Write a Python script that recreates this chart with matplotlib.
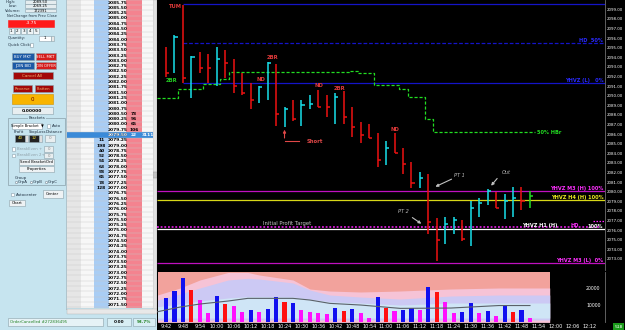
import numpy as np
import pandas as pd
import matplotlib
matplotlib.use("Agg")
import matplotlib.pyplot as plt
from matplotlib.patches import Rectangle

W, H = 625, 330

# ---- 3-minute HLC bars, 9:42 .. 11:51 ----
bar_high = [2095.1, 2096.3, 2099.5, 2094.1, 2094.6, 2094.35, 2095.1, 2094.76, 2093.8, 2092.33,
            2091.3, 2091.0, 2093.54, 2093.3, 2088.8, 2089.55, 2089.55, 2090.07, 2090.6, 2090.07,
            2090.25, 2090.5, 2088.8, 2087.3, 2087.05, 2086.1, 2085.3, 2086.1, 2084.6, 2083.1,
            2082.1, 2081.84, 2077.26, 2077.33, 2077.33, 2077.05, 2079.03, 2079.3, 2080.25, 2080.0,
            2079.76, 2080.5, 2080.5, 2080.07]
bar_low = [2091.9, 2092.33, 2091.35, 2089.8, 2092.33, 2091.35, 2091.04, 2091.8, 2090.3, 2090.07,
           2088.6, 2089.27, 2089.6, 2086.85, 2086.77, 2087.4, 2086.85, 2088.58, 2088.8, 2087.8,
           2087.1, 2087.1, 2085.67, 2085.1, 2085.56, 2082.6, 2082.8, 2084.0, 2081.84, 2080.35,
           2080.35, 2075.6, 2072.8, 2074.55, 2075.6, 2074.9, 2074.35, 2077.33, 2078.6, 2078.27,
           2077.13, 2077.33, 2078.1, 2078.33]
bar_close = [2092.33, 2096.08, 2091.8, 2094.06, 2092.85, 2092.85, 2093.8, 2093.4, 2091.0, 2090.3,
             2089.6, 2090.9, 2093.4, 2088.1, 2088.58, 2087.57, 2089.03, 2089.1, 2088.85, 2088.85,
             2089.83, 2087.8, 2086.77, 2085.9, 2085.63, 2083.3, 2084.58, 2084.06, 2082.85, 2080.9,
             2081.4, 2076.8, 2075.0, 2076.6, 2077.05, 2075.1, 2078.27, 2078.85, 2080.07, 2078.27,
             2079.03, 2079.3, 2079.03, 2079.55]
bar_dir = ("d u d u d d u d d d "
           "d u u d u d u u d d "
           "u d d d d d u d d d "
           "u d d u u d u u u d "
           "u u d l").split()

volume = [14800, 19000, 26800, 19400, 13200, 5800, 16000, 11000, 10000, 6200,
          7400, 6200, 7800, 15400, 12000, 11800, 7600, 6400, 5400, 4800,
          8400, 6800, 8000, 5800, 2800, 15200, 8400, 6800, 7400, 8800,
          7400, 21400, 18400, 12400, 5800, 6400, 11400, 5800, 7000, 4000,
          10400, 6400, 7400, 2800]
vol_dir = ("b b b r m m b r m m "
           "b m b b r b m m m m "
           "b r b m m b r m b b "
           "m b r m m b b m b m "
           "b r b m").split()

# volume envelope bands (minutes of day)
band_min = [579, 587, 594, 604, 611, 615, 627, 633, 640, 651, 665, 683, 700, 718]
band_pink = [16400, 20600, 25400, 29900, 29900, 28400, 25400, 20000, 18800, 18200, 18800, 20000, 20600, 20600]
band_lav = [13400, 17000, 20600, 25400, 26400, 26000, 23600, 19400, 16400, 15200, 14000, 15800, 16400, 16400]
band_blue = [9400, 11000, 12800, 14600, 15400, 15400, 15200, 14000, 12400, 11600, 10400, 11600, 11600, 11600]
ma_min = [579, 587, 594, 604, 611, 615, 627, 633, 640, 651, 665, 683, 700, 711]
ma_vol = [6400, 9200, 11000, 12800, 14400, 14400, 14400, 13400, 11400, 10400, 8400, 8600, 10100, 10100]

# DOM ladder
ask_px = [2080.50, 2080.25, 2080.00, 2079.75, 2079.50]
ask_sz = [73, 96, 65, 106, 22]
bid_px = [2079.25, 2079.00, 2078.75, 2078.50, 2078.25, 2078.00, 2077.75, 2077.50, 2077.25, 2077.00]
bid_sz = [11, 198, 40, 52, 54, 63, 58, 65, 78, 128]
last_px = 2079.50

time_labels = ["9:42", "9:48", "9:54", "10:00", "10:06", "10:12", "10:18", "10:24", "10:30",
               "10:36", "10:42", "10:48", "10:54", "11:00", "11:06", "11:12", "11:18", "11:24",
               "11:30", "11:36", "11:42", "11:48", "11:54", "12:00", "12:06", "12:12"]


def tmin(s):
    h, m = s.split(":")
    return int(h) * 60 + int(m)


bar_t = tmin("9:42") + 3 * np.arange(len(bar_close))

fig = plt.figure(figsize=(W / 100, H / 100), dpi=100)
fig.patch.set_facecolor("black")


def fax(x0, y0, x1, y1):
    return fig.add_axes([x0 / W, 1 - y1 / H, (x1 - x0) / W, (y1 - y0) / H])


# ================= left order panel =================
PANEL = "#c6e4ef"
ui = fax(0, 0, 157, 330)
ui.set_xlim(0, 157)
ui.set_ylim(330, 0)
ui.set_facecolor(PANEL)
ui.axis("off")
ui.add_patch(Rectangle((0, 0), 157, 330, fc=PANEL, ec="none"))


def box(x0, y0, x1, y1, fc, text=None, tc="black", fs=3.0, ec="#8aa0aa", bold=False, ha="center"):
    ui.add_patch(Rectangle((x0, y0), x1 - x0, y1 - y0, fc=fc, ec=ec, lw=0.4))
    if text is not None:
        tx = (x0 + x1) / 2 if ha == "center" else x0 + 1.5
        ui.text(tx, (y0 + y1) / 2 + 0.3, text, color=tc, fontsize=fs, ha=ha, va="center",
                fontweight="bold" if bold else "normal")


def label(x, y, s, fs=2.8, c="#203040", ha="left"):
    ui.text(x, y, s, fontsize=fs, color=c, ha=ha, va="center")


label(6, 1.8, "High:")
box(25, 0, 56, 3.5, "#e4ecef", "2089.50", fs=2.6)
label(9, 6, "Low:")
box(25, 4.2, 56, 8, "#e4ecef", "2069.25", fs=2.6)
label(5, 10.5, "Volume:")
box(25, 8.7, 56, 12.5, "#e4ecef", "172391", fs=2.6)
label(7, 15.5, "NetChange from Prev Close", fs=2.6)
box(8, 19.5, 54, 26.5, "#ff1a1a", "-3.75", tc="white", fs=3.2, ec="#ff1a1a")
for i, s in enumerate(["1", "2", "3", "4", "5"]):
    box(8.5 + i * 6.2, 28, 14 + i * 6.2, 34, "#eef4f6", s, fs=3)
label(8, 38, "Quantity:")
box(39, 35.5, 51, 40.5, "white", "1", fs=3)
box(51, 35.5, 54, 40.5, "#e8e8e8")
label(8, 45, "Quick Click:")
box(30, 43, 33, 46.5, "white")
box(12, 53, 34, 59.5, "#1c5aa6", "BUY MKT", tc="white", fs=2.8)
box(35.5, 53, 55.5, 59.5, "#d41c1c", "SELL MKT", tc="white", fs=2.8)
box(12, 62, 34, 68.5, "#1c5aa6", "JOIN BID", tc="white", fs=2.8)
box(35.5, 62, 55.5, 68.5, "#d41c1c", "JOIN OFFER", tc="white", fs=2.6)
box(12.5, 71.5, 52.5, 79, "#a20808", "Cancel All", tc="#f0b070", fs=3)
box(12.5, 85, 31.5, 91.5, "#a20808", "Reverse", tc="#f0b070", fs=2.8)
box(34.5, 85, 52.5, 91.5, "#a20808", "Flatten", tc="#f0b070", fs=2.8)
box(12, 94, 52.5, 104, "#f8b400", "0", tc="#600000", fs=4, ec="#d09000")
box(12, 107, 52.5, 114, "#e8eef0", "0.00000", fs=3.2, bold=True)
# brackets group
ui.add_patch(Rectangle((8, 118), 57, 67, fc="none", ec="#8aa0aa", lw=0.5))
ui.text(37, 118, "Brackets", fontsize=2.8, ha="center", va="center", color="#203040",
        bbox=dict(fc=PANEL, ec="none", pad=0.3))
box(12, 123, 42, 129, "white", "Simple Bracket  \u25bc", fs=2.6)
box(47, 124, 50, 127.5, "white")
label(51.5, 126, "Auto")
label(14, 132, "Profit")
label(29, 132, "StopLoss")
label(46, 132, "Distance")
box(15, 134.5, 25, 141.5, "#222222", "40", tc="#f0e040", fs=3)
box(25, 134.5, 28, 141.5, "#e0e0e0")
box(29, 134.5, 39, 141.5, "#222222", "12", tc="#f0e040", fs=3)
box(39, 134.5, 42, 141.5, "#e0e0e0")
box(45, 134.5, 55, 141.5, "#e8eef0", "0", fs=3, tc="#888888")
box(12, 147, 15, 150.5, "white")
label(17, 149, "BreakEven +", c="#90a0a8")
box(44, 146, 53, 151.5, "#e8eef0", "0", fs=2.8, tc="#888888")
box(12, 153.5, 15, 157, "white")
label(17, 155.5, "BreakEven 2+", c="#90a0a8")
box(44, 152.5, 53, 158, "#e8eef0", "0", fs=2.8, tc="#888888")
box(19, 158.5, 53.5, 164.5, "#eef2f4", "Send BracketOrd", fs=2.8)
box(19, 166, 53.5, 172, "#eef2f4", "Properties", fs=2.8)
label(15, 177.5, "Group")
for i, s in enumerate(["GrpA", "GrpB", "GrpC"]):
    ui.plot(16 + i * 15, 182, "o", ms=1.6, mfc="white", mec="#506070", mew=0.3)
    label(18 + i * 15, 182, s)
box(11, 192.5, 14, 196, "white")
label(16, 194.5, "Autocenter")
box(43, 190, 62.5, 198, "#eef2f4", "Center", fs=2.8)
box(9, 200, 24.5, 206, "#eef2f4", "Chart", fs=2.8)
# status bar
box(8, 318, 103, 326, "#e6f2f6", "OrderCancelled #272836495", tc="#208020", fs=2.8, ha="left")
box(107, 318, 131, 326, "#d8eef4", "0.00", fs=3, bold=True)
box(133, 318, 155, 326, "#d8eef4", "93.7%", tc="#208020", fs=3, bold=True)
# scrollbars
ui.add_patch(Rectangle((65.5, 0), 1.5, 310, fc="#b0c4cc", ec="none"))
ui.add_patch(Rectangle((153, 0), 4, 310, fc="#e2e2e2", ec="#b0b0b0", lw=0.3))
ui.add_patch(Rectangle((153.3, 172), 3.4, 6, fc="#c4c4c4", ec="#909090", lw=0.3))
ui.add_patch(Rectangle((67, 308.5), 90, 5, fc="#e8e8e8", ec="#b0b0b0", lw=0.3))

# ================= DOM ladder =================
dom = fax(67, 0, 153, 308)
row = 0.25
dom.set_xlim(0, 86)
dom_lo, dom_hi = last_px - (308 - 135) / 5.3 * row, last_px + 135 / 5.3 * row
dom.set_ylim(dom_lo, dom_hi)
dom.axis("off")
cols = [(0, 14, "#e6e6e6"), (14, 27, "#f7f7f7"), (27, 42, "#a9cdf4"),
        (42, 59, "#f7f7f7"), (59, 75, "#f4838f"), (75, 86, "#f7f7f7")]
for c0, c1, cc in cols:
    dom.axvspan(c0, c1, color=cc, lw=0)
ladder = np.arange(2071.25, 2086.01, row)
for p in ladder:
    dom.axhline(p - row / 2, color="#c8c8c8", lw=0.3)
    if dom_lo + 0.1 < p < dom_hi - 0.1:
        dom.text(50.5, p, f"{p:.2f}", fontsize=3.2, ha="center", va="center", fontweight="bold")
dom.axhspan(last_px - row / 2, last_px + row / 2, color="#3a8ad8", lw=0)
dom.text(50.5, last_px, f"{last_px:.2f}", fontsize=3.2, ha="center", va="center",
         fontweight="bold", color="white")
dom.text(80.5, last_px, "3111", fontsize=3.2, ha="center", va="center", fontweight="bold",
         color="white")
for p, s in zip(ask_px, ask_sz):
    dom.text(67, p, str(s), fontsize=3.2, ha="center", va="center", fontweight="bold",
             color="white" if p == last_px else "black")
for p, s in zip(bid_px, bid_sz):
    dom.text(34.5, p, str(s), fontsize=3.2, ha="center", va="center", fontweight="bold")

# ================= price chart =================
x_lo, x_hi = 578.8, 737.6
ax = fax(157, 0, 605, 270)
ax.set_facecolor("black")
ax.set_xlim(x_lo, x_hi)
ax.set_ylim(2099 - 260.7 / 9.6, 2099 + 9.3 / 9.6)
for s in ["top", "left", "bottom"]:
    ax.spines[s].set_visible(False)
ax.spines["right"].set_color("#707070")
ax.spines["right"].set_linewidth(0.6)
ax.set_xticks([])
ax.yaxis.tick_right()
ax.set_yticks(np.arange(2073, 2100))
ax.set_yticklabels([f"{v:.2f}" for v in np.arange(2073, 2100)])
ax.tick_params(axis="y", length=0, pad=1.0, labelsize=2.9, labelcolor="white")

# levels
ax.hlines(2099.55, bar_t[2], x_hi, color="#1414c8", lw=0.9)
ax.hlines(2095.45, bar_t[2], x_hi, color="#1414c8", lw=0.9, linestyles=(0, (3, 1.5)))
ax.hlines(2091.3, bar_t[2], x_hi, color="#1414c8", lw=0.9)
ax.hlines(2080.07, x_lo, x_hi, color="#c010c0", lw=0.9)
ax.hlines(2079.13, x_lo, x_hi, color="#d8d818", lw=0.9)
ax.hlines(2076.32, x_lo, 735.4, color="#ff20ff", lw=1.1, linestyles=(0, (1.2, 1.2)))
ax.hlines(2076.95, 733.5, 737.2, color="#ff20ff", lw=0.9, linestyles=(0, (1.2, 1.2)))
ax.hlines(2076.08, x_lo, x_hi, color="white", lw=0.9)
ax.hlines(2072.54, x_lo, x_hi, color="#c010c0", lw=0.9)

tr = ax.get_yaxis_transform()
lbl = dict(fontsize=3.6, fontweight="bold", ha="right", va="bottom", transform=tr)
ax.text(0.996, 2095.5, "HD  50%", color="#2a2aff", **lbl)
ax.text(0.996, 2091.35, "YHVZ (L)   0%", color="#2a2aff", **lbl)
ax.text(0.996, 2080.12, "YHVZ M3 (H) 100%", color="#ff30ff", **lbl)
ax.text(0.996, 2079.18, "YHVZ H4 (H) 100%", color="#f0f020", **lbl)
ax.text(0.893, 2076.2, "YHVZ H1 (H)", color="white", **lbl)
ax.text(0.932, 2076.2, "HD", color="#ff30ff", transform=tr,
        fontsize=3.6, fontweight="bold", ha="center", va="bottom")
ax.text(0.996, 2076.15, "100%", color="white", **lbl)
ax.text(0.996, 2072.6, "YHVZ M3 (L)  0%", color="#ff30ff", **lbl)
ax.text(0.29, 2076.45, "Initial Profit Target", color="#c8c8c8", fontsize=3.8,
        ha="center", va="bottom", transform=tr)

# green step line
step_t = [578.8, 586.3, 595.2, 601.2, 604.3, 646.8, 650.0, 655.7, 664.6, 667.8, 673.8, 676.7, 712.7]
step_p = [2089.73, 2090.67, 2091.19, 2091.7, 2092.47, 2092.57, 2092.33, 2091.08, 2090.67,
          2089.9, 2087.57, 2086.19, 2086.19]
ax.step(step_t, step_p, where="post", color="#22dd22", lw=0.9, ls=(0, (2.5, 1.5)))
ax.text(713.5, 2086.19, "50% HBr", color="#22dd22", fontsize=3.6, fontweight="bold",
        ha="left", va="center")

# bars
col = {"d": "#ee1111", "u": "#18e0ea", "l": "#22dd22"}
tick = 1.1
for t, hi, lo, cl, d in zip(bar_t, bar_high, bar_low, bar_close, bar_dir):
    ax.vlines(t, lo, hi, color=col[d], lw=1.1)
    ax.hlines(cl, t, t + tick, color=col[d], lw=1.1)

# signal labels
sig = dict(fontsize=3.8, fontweight="bold", ha="center", va="center")
ax.text(bar_t[1], 2099.3, "TUM", color="#e03a3a", **sig)
ax.text(bar_t[0] + 2, 2091.56, "2BR", color="#22cc22", **sig)
ax.text(bar_t[11] + 0.5, 2091.64, "ND", color="#e03a3a", **sig)
ax.text(bar_t[12] + 1.8, 2094.03, "2BR", color="#e03a3a", **sig)
ax.text(bar_t[18] + 0.3, 2091.1, "ND", color="#e03a3a", **sig)
ax.text(bar_t[20] + 1.4, 2090.8, "2BR", color="#e03a3a", **sig)
ax.text(bar_t[27], 2086.5, "ND", color="#e03a3a", **sig)

# short entry arrow
ax.annotate("", xy=(bar_t[14], 2086.75), xytext=(bar_t[14], 2085.3),
            arrowprops=dict(arrowstyle="-|>", color="#e04848", lw=0.8, mutation_scale=4))
ax.plot([bar_t[14], bar_t[14] + 5.3], [2085.3, 2085.3], color="#e04848", lw=0.8)
ax.text(bar_t[14] + 8, 2085.2, "Short", color="#e04848", fontsize=3.8, fontweight="bold",
        ha="left", va="center")

# gray arrows
notes = [("PT 1", 686.0, 2081.64, 684.1, 2081.43, 676.6, 2080.4),
         ("Out", 702.5, 2082.05, 700.0, 2081.6, 696.6, 2080.4),
         ("PT 2", 666.3, 2077.9, 668.5, 2077.47, 673.3, 2076.5)]
for s, tx, ty, x0, y0, x1, y1 in notes:
    ax.text(tx, ty, s, color="#b8b8b8", fontsize=3.6, style="italic", ha="center", va="center")
    ax.annotate("", xy=(x1, y1), xytext=(x0, y0),
                arrowprops=dict(arrowstyle="-|>", color="#c0c0c0", lw=0.8, mutation_scale=4))

# ================= volume panel =================
vx = fax(157, 272.3, 605, 322.4)
vx.set_facecolor("black")
vx.set_xlim(x_lo, x_hi)
vx.set_ylim(0, 30000)
for s in ["top", "left", "bottom"]:
    vx.spines[s].set_visible(False)
vx.spines["right"].set_color("#707070")
vx.spines["right"].set_linewidth(0.6)
vx.fill_between(band_min, 0, 30000, color="#f2a29c", lw=0)
vx.fill_between(band_min, 0, band_pink, color="#f6c3d6", lw=0)
vx.fill_between(band_min, 1400, band_lav, color="#ccc9f4", lw=0)
vx.fill_between(band_min, 2600, band_blue, color="#cfe5f6", lw=0)
vx.plot(ma_min, ma_vol, color="#5a6068", lw=0.8)
vcol = {"b": "#1010f0", "r": "#ff1010", "m": "#ff10ff"}
vx.bar(bar_t, volume, width=1.45, color=[vcol[c] for c in vol_dir], lw=0)
vx.set_yticks([])
vx.set_xticks([tmin(s) for s in time_labels])
vx.set_xticklabels(time_labels)
vx.tick_params(axis="x", length=0, pad=1.2, labelsize=3.6, labelcolor="white")
for v in [20000, 10000]:
    vx.text(0.99, v, str(v), color="white", fontsize=3.3, ha="right", va="center",
            transform=vx.get_yaxis_transform())

fig.text(618.5 / W, 1 - 326.5 / H, "518", color="white", fontsize=3.2, ha="center", va="center",
         bbox=dict(fc="#1a9a1a", ec="none", pad=0.8))

fig.savefig("out.png", dpi=100, facecolor=fig.get_facecolor())
